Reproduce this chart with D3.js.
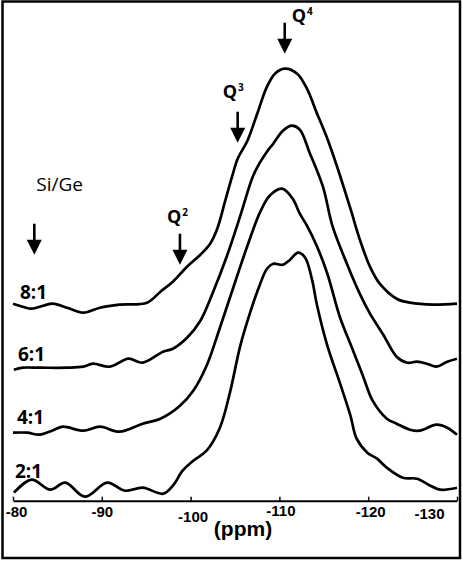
<!DOCTYPE html>
<html>
<head>
<meta charset="utf-8">
<script src="https://cdn.jsdelivr.net/npm/d3@7"></script>
<style>
  body { margin: 0; background: #fff; }
  svg { display: block; }
</style>
</head>
<body>
<div id="chart"></div>
<script>
// 29Si MAS NMR traces for the Si/Ge series, intensity in arbitrary units (baseline = 0)
const ratios = ['2:1', '4:1', '6:1', '8:1']

const ppm21 = [-80.1, -82.1, -84.2, -85.9, -88.1, -90.6, -92.6, -94.6, -96.9, -98.0, -99.1, -100.3, -101.8, -103.3, -104.4, -105.6, -106.7, -107.8, -108.6, -109.3, -110.4, -111.2, -112.1, -112.9, -113.7, -114.2, -115.4, -116.8, -118.0, -118.7, -119.9, -121.0, -122.1, -123.9, -125.5, -127.0, -128.1, -130.0]
const int21 = [-2, 11, 1, 8, -6, 8, 0, 3, -3, 5, 20, 30, 40, 63, 97, 145, 178, 206, 222, 227, 226, 231, 238, 233, 210, 187, 145, 108, 75, 52, 38, 32, 23, 13, 12, 5, 1, 3]

const ppm41 = [-80.0, -81.6, -83.0, -84.4, -85.6, -87.9, -89.8, -92.0, -94.6, -96.6, -98.8, -100.3, -101.8, -103.3, -104.8, -106.4, -107.8, -108.9, -110.3, -111.5, -112.3, -113.1, -114.2, -115.4, -116.8, -118.3, -119.4, -120.5, -122.1, -123.2, -124.7, -125.8, -127.7, -128.9, -130.0]
const int41 = [-1, -1, -3, 1, 5, 1, 5, 0, 8, 13, 26, 41, 66, 104, 144, 186, 219, 236, 243, 233, 218, 206, 186, 158, 115, 81, 56, 31, 13, 8, 2, 1, 7, 4, -3]

const ppm61 = [-80.1, -81.1, -83.0, -86.1, -87.9, -89.0, -90.9, -93.0, -94.6, -96.9, -98.0, -99.6, -101.1, -102.5, -104.1, -105.6, -107.0, -107.8, -108.6, -109.3, -110.4, -111.4, -112.3, -113.4, -114.9, -116.0, -117.6, -119.1, -120.2, -121.7, -123.2, -124.4, -125.5, -126.6, -127.7, -128.9, -130.0]
const int61 = [-3, -1, -1, -1, 0, 3, 0, 8, 4, 15, 18, 29, 46, 74, 111, 151, 190, 204, 215, 223, 236, 241, 237, 214, 180, 140, 103, 72, 53, 32, 10, 4, 5, 3, 0, 5, 8]

const ppm81 = [-80.0, -81.1, -82.1, -83.4, -84.5, -86.1, -87.9, -89.8, -92.0, -95.1, -96.6, -98.0, -99.6, -101.1, -102.2, -103.0, -103.9, -104.7, -105.3, -106.4, -107.5, -108.6, -109.5, -110.6, -112.0, -113.1, -114.2, -115.4, -116.5, -118.0, -119.1, -120.2, -121.3, -123.2, -124.7, -127.3, -130.0]
const int81 = [0, -3, -5, -2, 0, -4, -9, -4, -1, 1, 12, 22, 37, 49, 60, 75, 103, 128, 145, 163, 190, 217, 230, 235, 230, 215, 191, 165, 137, 95, 63, 37, 20, 5, 1, -1, 0]

const offsets = [10, 69, 134, 197]          // vertical stacking of each trace
const tickValues = [-80, -90, -100, -110, -120, -130]

// Q^n site markers
const qNames = ['2', '3', '4']
const qPpm = [-98.8, -105.3, -110.6]
const qTip = [236, 358, 447]
const siGePpm = -82.4
const siGeTip = 246

const width = 462,
      height = 561,
      ink = '#000'

const series = [
  { ppm: ppm21, val: int21 },
  { ppm: ppm41, val: int41 },
  { ppm: ppm61, val: int61 },
  { ppm: ppm81, val: int81 }
]

const x = d3.scaleLinear().domain([-80, -130]).range([13, 457])
const y = d3.scaleLinear().domain([0, 440]).range([500.7, 60.7])

const svg = d3.select('#chart').append('svg')
  .attr('width', width)
  .attr('height', height)

// frame
svg.append('rect')
  .attr('x', 2.5).attr('y', 1.5)
  .attr('width', 457.5).attr('height', 556.5)
  .attr('fill', 'none')
  .attr('stroke', ink)
  .attr('stroke-width', 2.5)

// traces
const line = d3.line()
  .x(d => x(d[0]))
  .y(d => y(d[1]))
  .curve(d3.curveCatmullRom.alpha(0.5))

svg.append('g').selectAll('path')
  .data(series)
  .join('path')
    .attr('d', (s, i) => line(s.ppm.map((p, j) => [p, s.val[j] + offsets[i]])))
    .attr('fill', 'none')
    .attr('stroke', ink)
    .attr('stroke-width', 2.7)
    .attr('stroke-linejoin', 'round')

// ratio labels
const labelLift = [13, 8, 6, 5]
const labelX = [15, 17, 18, 20]
svg.append('g').selectAll('text')
  .data(ratios)
  .join('text')
    .attr('x', (d, i) => labelX[i])
    .attr('y', (d, i) => y(offsets[i]) - labelLift[i])
    .attr('font-family', '"Open Sans", sans-serif')
    .attr('font-weight', 'bold')
    .attr('font-size', 19)
    .attr('fill', ink)
    .text(d => d)

// x axis, ticks pointing up, hand-nudged labels like the original figure
const labelDrop = [16, 16, 21, 15, 16, 18]
const labelShift = [3, 0, 2, 1, 2, -28]

const xAxis = d3.axisBottom(x)
  .tickValues(tickValues)
  .tickSizeInner(-4)
  .tickSizeOuter(0)
  .tickFormat(d => String(d))

const gx = svg.append('g')
  .attr('transform', `translate(0, ${y(0)})`)
  .call(xAxis)

gx.select('.domain').attr('stroke', ink).attr('stroke-width', 2)
gx.selectAll('.tick line').attr('stroke', ink).attr('stroke-width', 1.5)
gx.selectAll('.tick text')
  .attr('dy', null)
  .attr('y', (d, i) => labelDrop[i])
  .attr('dx', (d, i) => labelShift[i])
  .attr('font-family', '"Liberation Sans", Arial, sans-serif')
  .attr('font-weight', 'bold')
  .attr('font-size', 15)
  .attr('fill', ink)

svg.append('text')
  .attr('x', 243)
  .attr('y', 535.5)
  .attr('text-anchor', 'middle')
  .attr('font-family', '"Liberation Sans", Arial, sans-serif')
  .attr('font-weight', 'bold')
  .attr('font-size', 21)
  .attr('fill', ink)
  .text('(ppm)')

// arrows
function drawArrow(g, px, tipY) {
  g.append('line')
    .attr('x1', px).attr('x2', px)
    .attr('y1', tipY - 31).attr('y2', tipY - 13)
    .attr('stroke', ink)
    .attr('stroke-width', 2.6)
  g.append('path')
    .attr('d', `M${px - 7.5},${tipY - 15}L${px + 7.5},${tipY - 15}L${px},${tipY}Z`)
    .attr('fill', ink)
}

const ann = svg.append('g')

drawArrow(ann, x(siGePpm), y(siGeTip))
ann.append('text')
  .attr('x', x(siGePpm) + 2)
  .attr('y', y(siGeTip) - 64)
  .attr('font-family', '"Open Sans", sans-serif')
  .attr('font-size', 19)
  .attr('fill', ink)
  .text('Si/Ge')

const qDx = [-13, -15, 7]
const qDy = [42, 45, 32]
qNames.forEach((n, i) => {
  const px = x(qPpm[i]), tip = y(qTip[i])
  drawArrow(ann, px, tip)
  const t = ann.append('text')
    .attr('x', px + qDx[i])
    .attr('y', tip - qDy[i])
    .attr('font-family', '"Open Sans", sans-serif')
    .attr('font-weight', 'bold')
    .attr('font-size', 18)
    .attr('fill', ink)
  t.append('tspan').text('Q')
  t.append('tspan')
    .attr('dx', 1)
    .attr('dy', -7)
    .attr('font-size', 10)
    .text(n)
})
</script>
</body>
</html>
